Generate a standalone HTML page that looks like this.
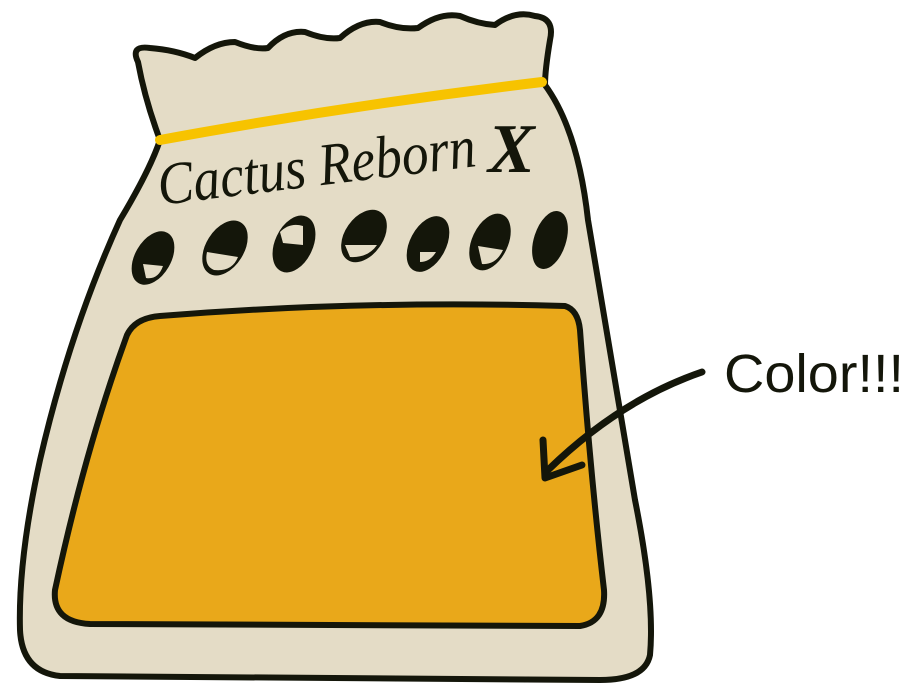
<!DOCTYPE html>
<html><head><meta charset="utf-8"><style>
html,body{margin:0;padding:0;background:#fff;width:922px;height:694px;overflow:hidden}
svg{display:block}
</style></head><body>
<svg width="922" height="694" viewBox="0 0 922 694">
  <path d="M138,62 Q130,45 150,48 Q175,50 195,58 Q215,42 235,42 Q255,50 268,48 Q285,30 305,32 Q325,40 340,38 Q360,20 380,22 Q400,30 418,28 Q440,12 460,16 Q478,24 495,25 Q515,10 535,16 Q555,18 550,40 Q545,70 545,85 Q578,130 588,220 Q615,380 635,500 Q655,600 650,655 Q645,680 600,680 L60,676 Q22,672 20,630 Q18,560 40,460 Q70,330 120,220 Q150,170 160,140 Q145,100 138,62 Z" fill="#e4dcc6" stroke="#14160a" stroke-width="6" stroke-linejoin="round"/>
  <path d="M160,140 Q350,105 542,82" fill="none" stroke="#f7c300" stroke-width="10" stroke-linecap="round"/>
  <path d="M127,335 Q135,318 160,316 Q360,300 565,306 Q578,310 580,330 Q590,470 604,590 Q606,622 580,626 L90,624 Q52,622 55,590 Q85,450 127,335 Z" fill="#e9a81a" stroke="#14160a" stroke-width="6" stroke-linejoin="round"/>
  <text x="160" y="205" transform="rotate(-7 160 205)" font-family="'Liberation Serif',serif" font-style="italic" font-size="60" textLength="320" lengthAdjust="spacingAndGlyphs" fill="#14160a">Cactus Reborn</text>
  <text x="488" y="172" font-family="'Liberation Serif',serif" font-style="italic" font-size="70" font-weight="bold" fill="#14160a">X</text>
  <g fill="#14160a" stroke="#14160a" stroke-width="4">
    <ellipse cx="153" cy="258" rx="16" ry="27" transform="rotate(30 153 258)"/>
    <ellipse cx="225" cy="248" rx="17" ry="28" transform="rotate(32 225 248)"/>
    <ellipse cx="294" cy="244" rx="17" ry="28" transform="rotate(25 294 244)"/>
    <ellipse cx="364" cy="236" rx="17" ry="27" transform="rotate(35 364 236)"/>
    <ellipse cx="428" cy="244" rx="16" ry="28" transform="rotate(28 428 244)"/>
    <ellipse cx="490" cy="242" rx="16" ry="28" transform="rotate(25 490 242)"/>
    <ellipse cx="550" cy="240" rx="14" ry="28" transform="rotate(18 550 240)"/>
  </g>
  <g fill="#e4dcc6">
    <path d="M207,252 L238,257 Q232,272 214,270 Q204,266 207,252 Z"/>
    <path d="M280,232 Q290,222 303,226 L303,245 L283,243 Z"/>
    <path d="M345,245 L377,245 Q368,258 350,257 Z"/>
    <path d="M420,252 L436,252 Q430,262 420,262 Z"/>
    <path d="M478,246 L503,250 Q496,265 482,264 Z"/>
    <path d="M143,264 L163,266 Q158,280 146,278 Z"/>
  </g>
  <text x="724" y="392" font-family="'Liberation Sans',sans-serif" font-size="54" textLength="180" lengthAdjust="spacingAndGlyphs" fill="#14160a">Color!!!</text>
  <g fill="none" stroke="#14160a" stroke-width="7" stroke-linecap="round" stroke-linejoin="round">
    <path d="M702,372 Q620,400 548,470"/>
    <path d="M543,440 L545,478 L582,465"/>
  </g>
</svg>
</body></html>
